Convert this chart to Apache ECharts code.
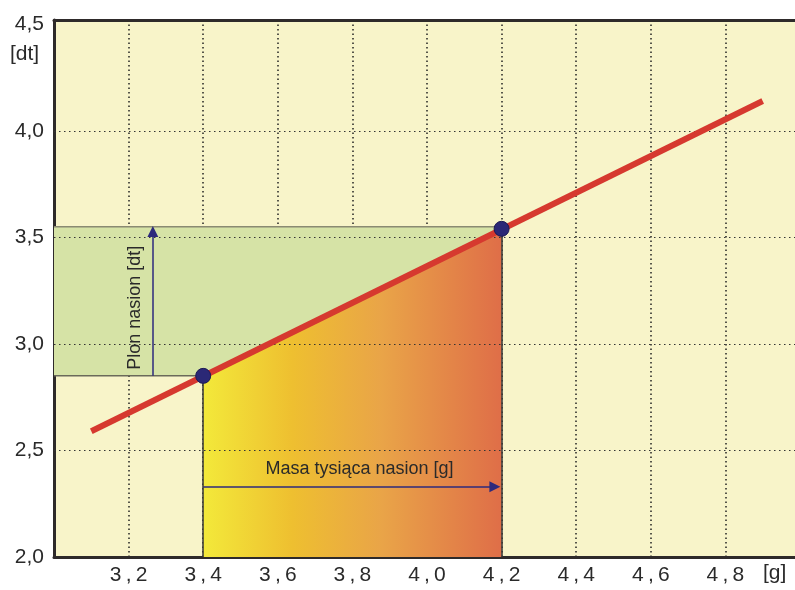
<!DOCTYPE html>
<html><head><meta charset="utf-8">
<script src="https://cdn.jsdelivr.net/npm/echarts@6/dist/echarts.min.js"></script>
<style>html,body{margin:0;padding:0;background:#fff}#c{width:795px;height:590px}</style>
</head><body><div id="c"></div>
<script>
// ---- data ----
const xMin = 3.0, xMax = 5.0, xStep = 0.2;
const yMin = 2.0, yMax = 4.52, yStep = 0.5;
const yGridValues = [2.5, 3.0, 3.5, 4.0];
const regressionLine = [[3.1, 2.59], [4.9, 4.14]];
const markedPoints = [[3.4, 2.85], [4.2, 3.54]];
const bandX = [3.0, 4.2];
const bandY = [2.85, 3.55];
const areaPolygon = [[3.4, 2.0], [3.4, 2.85], [4.2, 3.54], [4.2, 2.0]];
const dropLines = [[[3.4, 2.0], [3.4, 2.85]], [[4.2, 2.0], [4.2, 3.54]]];
const yArrow = [[3.265, 2.85], [3.265, 3.527]];
const xArrow = [[3.4, 2.33], [4.182, 2.33]];
const yArrowLabel = {text: 'Plon nasion [dt]', at: [3.216, 3.17]};
const xArrowLabel = {text: 'Masa tysiąca nasion [g]', at: [3.819, 2.413]};
const xUnit = '[g]', yUnit = '[dt]';

const FONT = '"Liberation Sans", Arial, sans-serif';
const TXT = '#2a2a2a';
const chart = echarts.init(document.getElementById('c'), null, {renderer: 'canvas'});

function fmt(v) { return v.toFixed(1).replace('.', ','); }

chart.setOption({
  animation: false,
  backgroundColor: '#ffffff',
  grid: {left: 54, top: 20, width: 746, bottom: 33, show: true, backgroundColor: '#f8f4c9', borderWidth: 0,
         containLabel: false, outerBoundsMode: 'none'},
  xAxis: [{
    type: 'value', min: xMin, max: xMax, interval: xStep,
    axisLine: {lineStyle: {color: '#2e2a2a', width: 3}},
    axisTick: {show: false},
    axisLabel: {
      fontFamily: FONT, fontSize: 21, color: TXT, margin: 8,
      formatter: v => (v < xMin + 0.05 || v > xMax - 0.05) ? '' : fmt(v).replace(',', '\u2009,\u2009')
    },
    splitLine: {show: true, lineStyle: {color: '#222', width: 1.5, type: [1.5, 3]}}
  }, {
    type: 'value', position: 'top', min: xMin, max: xMax,
    axisLine: {show: true, lineStyle: {color: '#2e2a2a', width: 3}},
    axisTick: {show: false}, axisLabel: {show: false}, splitLine: {show: false}
  }],
  yAxis: {
    type: 'value', min: yMin, max: yMax, interval: yStep,
    axisLine: {show: true, lineStyle: {color: '#2e2a2a', width: 3}},
    axisTick: {show: false},
    axisLabel: {
      fontFamily: FONT, fontSize: 21, color: TXT, margin: 10,
      formatter: v => Math.abs(v * 2 - Math.round(v * 2)) > 0.01 ? '' : fmt(v)
    },
    splitLine: {show: false}
  },
  graphic: [
    {type: 'text', left: 763, top: 563, style: {text: xUnit, font: '21px ' + FONT, fill: TXT}},
    {type: 'text', left: 10, top: 44, style: {text: yUnit, font: '21px ' + FONT, fill: TXT}}
  ],
  series: [
    { // horizontal grid lines
      type: 'line', data: [], z: 1, silent: true,
      markLine: {
        symbol: 'none', silent: true, label: {show: false}, animation: false,
        lineStyle: {color: '#333', width: 1.2, type: [1.5, 3.5]},
        data: yGridValues.map(v => ({yAxis: v}))
      }
    },
    { // green band
      type: 'custom', z: 2, silent: true, data: [0],
      renderItem: (params, api) => {
        const p0 = api.coord([bandX[0], bandY[1]]);
        const p1 = api.coord([bandX[1], bandY[0]]);
        return {type: 'group', children: [
          {type: 'rect', shape: {x: p0[0], y: p0[1], width: p1[0] - p0[0], height: p1[1] - p0[1]},
           style: {fill: '#d6e3a6'}},
          {type: 'line', shape: {x1: p0[0], y1: p0[1], x2: p1[0], y2: p0[1]}, style: {stroke: '#8a8a72', lineWidth: 1.5}},
          {type: 'line', shape: {x1: p0[0], y1: p1[1], x2: p1[0], y2: p1[1]}, style: {stroke: '#6a6a5a', lineWidth: 1.5}}
        ]};
      }
    },
    { // gradient area
      type: 'custom', z: 3, silent: true, data: [0],
      renderItem: (params, api) => ({
        type: 'polygon',
        shape: {points: areaPolygon.map(p => api.coord(p))},
        style: {fill: new echarts.graphic.LinearGradient(0, 0, 1, 0, [
          {offset: 0, color: '#f3e93a'},
          {offset: 0.3, color: '#eebf30'},
          {offset: 0.6, color: '#e9a448'},
          {offset: 1, color: '#df6e48'}
        ])}
      })
    },
    { // drop lines
      type: 'lines', coordinateSystem: 'cartesian2d', z: 4, silent: true,
      symbol: 'none',
      lineStyle: {color: '#333', width: 1.5, opacity: 1},
      data: dropLines.map(c => ({coords: c}))
    },
    { // arrows
      type: 'lines', coordinateSystem: 'cartesian2d', z: 5, silent: true,
      symbol: ['none', 'triangle'], symbolSize: 11,
      lineStyle: {color: '#2d2a7c', width: 1.5, opacity: 1},
      itemStyle: {color: '#2d2a7c'},
      data: [{coords: yArrow}, {coords: xArrow}]
    },
    { // arrow labels
      type: 'custom', z: 6, silent: true, data: [0],
      renderItem: (params, api) => {
        const a = api.coord(yArrowLabel.at), b = api.coord(xArrowLabel.at);
        return {type: 'group', children: [
          {type: 'text', x: a[0], y: a[1], rotation: Math.PI / 2,
           style: {text: yArrowLabel.text, font: '18px ' + FONT, fill: TXT, align: 'center', verticalAlign: 'middle'}},
          {type: 'text', x: b[0], y: b[1],
           style: {text: xArrowLabel.text, font: '18px ' + FONT, fill: TXT, align: 'center', verticalAlign: 'middle'}}
        ]};
      }
    },
    { // regression line
      type: 'line', z: 7, data: regressionLine, showSymbol: false, silent: true,
      lineStyle: {color: '#d6392f', width: 6, cap: 'butt'}
    },
    { // points
      type: 'scatter', z: 8, data: markedPoints, symbolSize: 15, silent: true,
      itemStyle: {color: '#2b2876', borderColor: '#1c1a55', borderWidth: 1, opacity: 1}
    }
  ]
});
</script>
</body></html>
